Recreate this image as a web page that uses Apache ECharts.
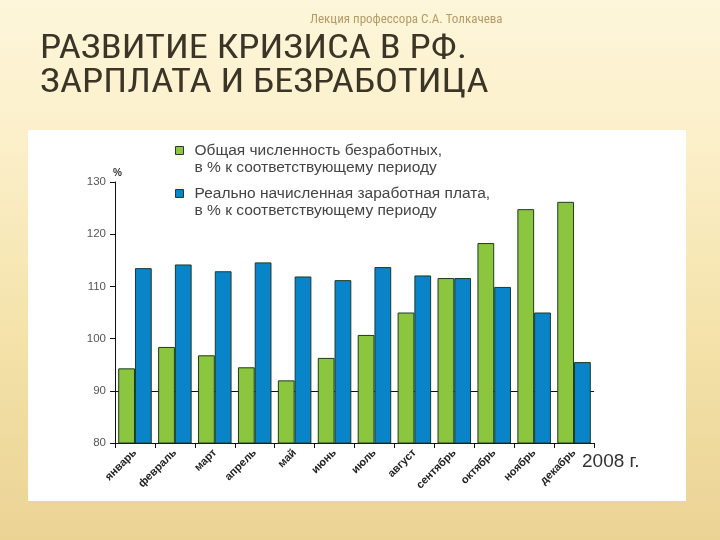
<!DOCTYPE html>
<html>
<head>
<meta charset="utf-8">
<script src="https://cdn.jsdelivr.net/npm/echarts@6/dist/echarts.min.js"></script>
<style>
html,body{margin:0;padding:0;width:720px;height:540px;overflow:hidden;}
#chart{width:720px;height:540px;}
</style>
</head>
<body>
<div id="chart"></div>
<script>
const months = ['январь','февраль','март','апрель','май','июнь','июль','август','сентябрь','октябрь','ноябрь','декабрь'];
const unemployment = [94.3, 98.4, 96.8, 94.5, 92.0, 96.3, 100.7, 105.0, 111.6, 118.3, 124.8, 126.2];
const wages = [113.5, 114.2, 112.9, 114.6, 111.9, 111.2, 113.7, 112.1, 111.6, 109.9, 105.0, 95.5];
const seriesNames = ['Общая численность безработных,\nв % к соответствующему периоду',
                     'Реально начисленная заработная плата,\nв % к соответствующему периоду'];
const yMin = 80, yMax = 130, yStep = 10;
const titleText = 'РАЗВИТИЕ КРИЗИСА В РФ.\nЗАРПЛАТА И БЕЗРАБОТИЦА';
const headerText = 'Лекция профессора С.А. Толкачева';
const yearText = '2008 г.';

const narrow = '"Liberation Sans Narrow", "Arial Narrow", "Roboto Condensed", "Liberation Sans", sans-serif';
const sans = '"Liberation Sans", Arial, sans-serif';
const chart = echarts.init(document.getElementById('chart'));
const clear = 'rgba(0,0,0,0)';
chart.setOption({
  animation: false,
  backgroundColor: '#fbf1cf',
  graphic: [
    { type: 'rect', z: -100, shape: { x: 0, y: 0, width: 720, height: 540 },
      style: { fill: new echarts.graphic.LinearGradient(0, 0, 0, 1, [
        { offset: 0, color: '#fdf6da' }, { offset: 0.25, color: '#fcf0cb' },
        { offset: 0.6, color: '#f4e3ab' }, { offset: 1, color: '#ebd394' }]) } },
    { type: 'rect', z: -90, shape: { x: 28, y: 130, width: 658, height: 371 },
      style: { fill: '#ffffff' } },
    { type: 'text', z: 10, x: 40, y: 32, scaleX: 1.13, scaleY: 1,
      style: { text: titleText, fontSize: 34, lineHeight: 34, fill: '#3b3528', fontFamily: narrow,
        textVerticalAlign: 'top', verticalAlign: 'top' } },
    { type: 'text', z: 10, left: 582, top: 452,
      style: { text: yearText, fontSize: 19, fill: '#333', fontFamily: sans } }
  ],
  title: [
    { text: headerText, left: 305, top: 8,
      textStyle: { fontSize: 13, fontWeight: 'normal', color: '#b59b66', fontFamily: narrow } }
  ],
  legend: {
    orient: 'vertical', left: 175, top: 125, padding: 0,
    icon: 'rect', itemWidth: 8, itemHeight: 8, itemGap: -8,
    formatter: function (name) { return '\n' + name; },
    textStyle: { fontSize: 15.5, color: '#444', lineHeight: 17, padding: [0, 0, 0, 6], fontFamily: sans },
    itemStyle: { borderColor: '#333', borderWidth: 1 },
    data: seriesNames
  },
  grid: { left: 115, right: 126, top: 182, bottom: 97 },
  xAxis: {
    type: 'category', data: months,
    axisLine: { lineStyle: { color: '#111', width: 1 } },
    axisTick: { show: true, length: 5, alignWithLabel: false, lineStyle: { color: '#111' } },
    axisLabel: { interval: 0, rotate: 45, fontSize: 11, fontWeight: 'bold', color: '#222', margin: 8, fontFamily: sans }
  },
  yAxis: {
    type: 'value', min: yMin, max: yMax, interval: yStep,
    name: '%', nameLocation: 'end', nameGap: 4,
    nameTextStyle: { fontSize: 10, fontWeight: 'bold', color: '#333', align: 'left', padding: [0, 0, 0, -2] },
    axisLine: { show: true, lineStyle: { color: '#111', width: 1 } },
    axisTick: { show: true, length: 5, lineStyle: { color: '#111' } },
    axisLabel: { fontSize: 11.5, color: '#555', margin: 9, fontFamily: sans },
    splitLine: { show: true, lineStyle: { color: [clear, '#111', clear, clear, clear, clear], width: 1 } }
  },
  series: [
    { name: seriesNames[0], type: 'bar', data: unemployment, barGap: '0%', barCategoryGap: '16%',
      itemStyle: { color: '#8cc63f', borderColor: '#1d3a22', borderWidth: 1 } },
    { name: seriesNames[1], type: 'bar', data: wages, barGap: '0%', barCategoryGap: '16%',
      itemStyle: { color: '#0a84c8', borderColor: '#1d3a22', borderWidth: 1 } }
  ]
});
</script>
</body>
</html>
